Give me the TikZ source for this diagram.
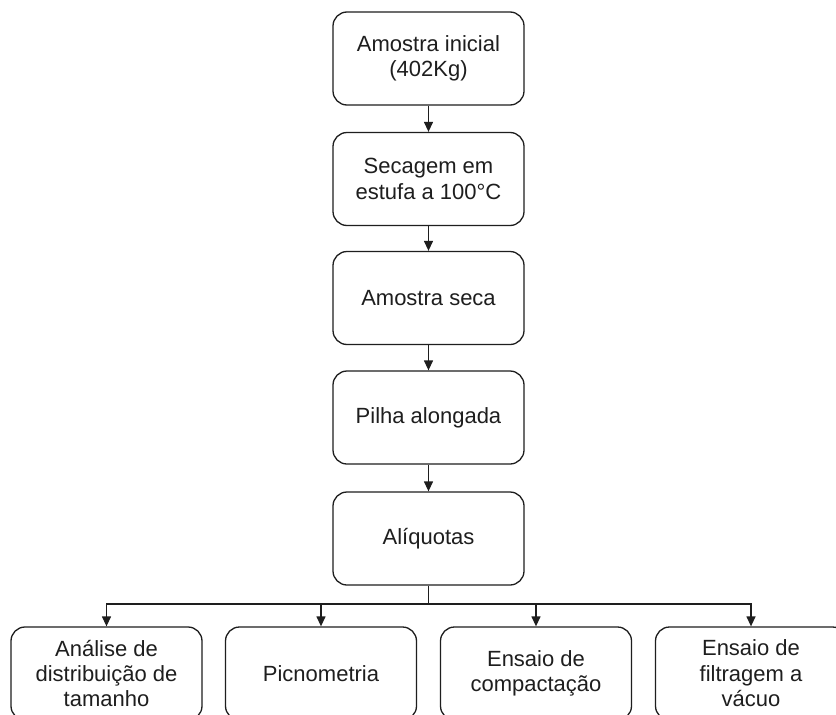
\documentclass[tikz,border=0pt]{standalone}
\usepackage{fontspec}
\setmainfont{Liberation Sans}
\usetikzlibrary{arrows.meta}
\definecolor{lc}{RGB}{30,30,30}
\begin{document}
\begin{tikzpicture}[x=1pt,y=-1pt,
  box/.style={draw=lc, line width=1.3pt, rounded corners=14pt, minimum width=191pt, minimum height=93pt,
    align=center, inner sep=0pt, font=\fontsize{22}{25.5}\selectfont, text=lc},
  arr/.style={draw=lc, line width=1.3pt, -{Triangle[width=9pt,length=10pt]}},
  link/.style={draw=lc, line width=1.3pt}]
\useasboundingbox (0,0) rectangle (836,715);
\clip (0,0) rectangle (836,715);
\fill[white] (0,0) rectangle (836,715);
\node[box] (n1) at (428.5,58.5) {Amostra inicial\\(402Kg)};
\node[box] (n2) at (428.5,179) {Secagem em\\estufa a 100°C};
\node[box] (n3) at (428.5,298) {Amostra seca};
\node[box] (n4) at (428.5,417.5) {Pilha alongada};
\node[box] (n5) at (428.5,538.5) {Alíquotas};
\node[box] (a) at (106.5,673.5) {Análise de\\distribuição de\\tamanho};
\node[box] (b) at (321,673.5) {Picnometria};
\node[box] (c) at (536,673.5) {Ensaio de\\compactação};
\node[box] (d) at (751,673.5) {Ensaio de\\filtragem a\\vácuo};
\draw[arr] (n1) -- (n2);
\draw[arr] (n2) -- (n3);
\draw[arr] (n3) -- (n4);
\draw[arr] (n4) -- (n5);
\coordinate (j) at (428.5,604);
\draw[link] (n5.south) -- (j);
\draw[arr] (j) -| (a.north);
\draw[arr] (j) -| (b.north);
\draw[arr] (j) -| (c.north);
\draw[arr] (j) -| (d.north);
\end{tikzpicture}
\end{document}
